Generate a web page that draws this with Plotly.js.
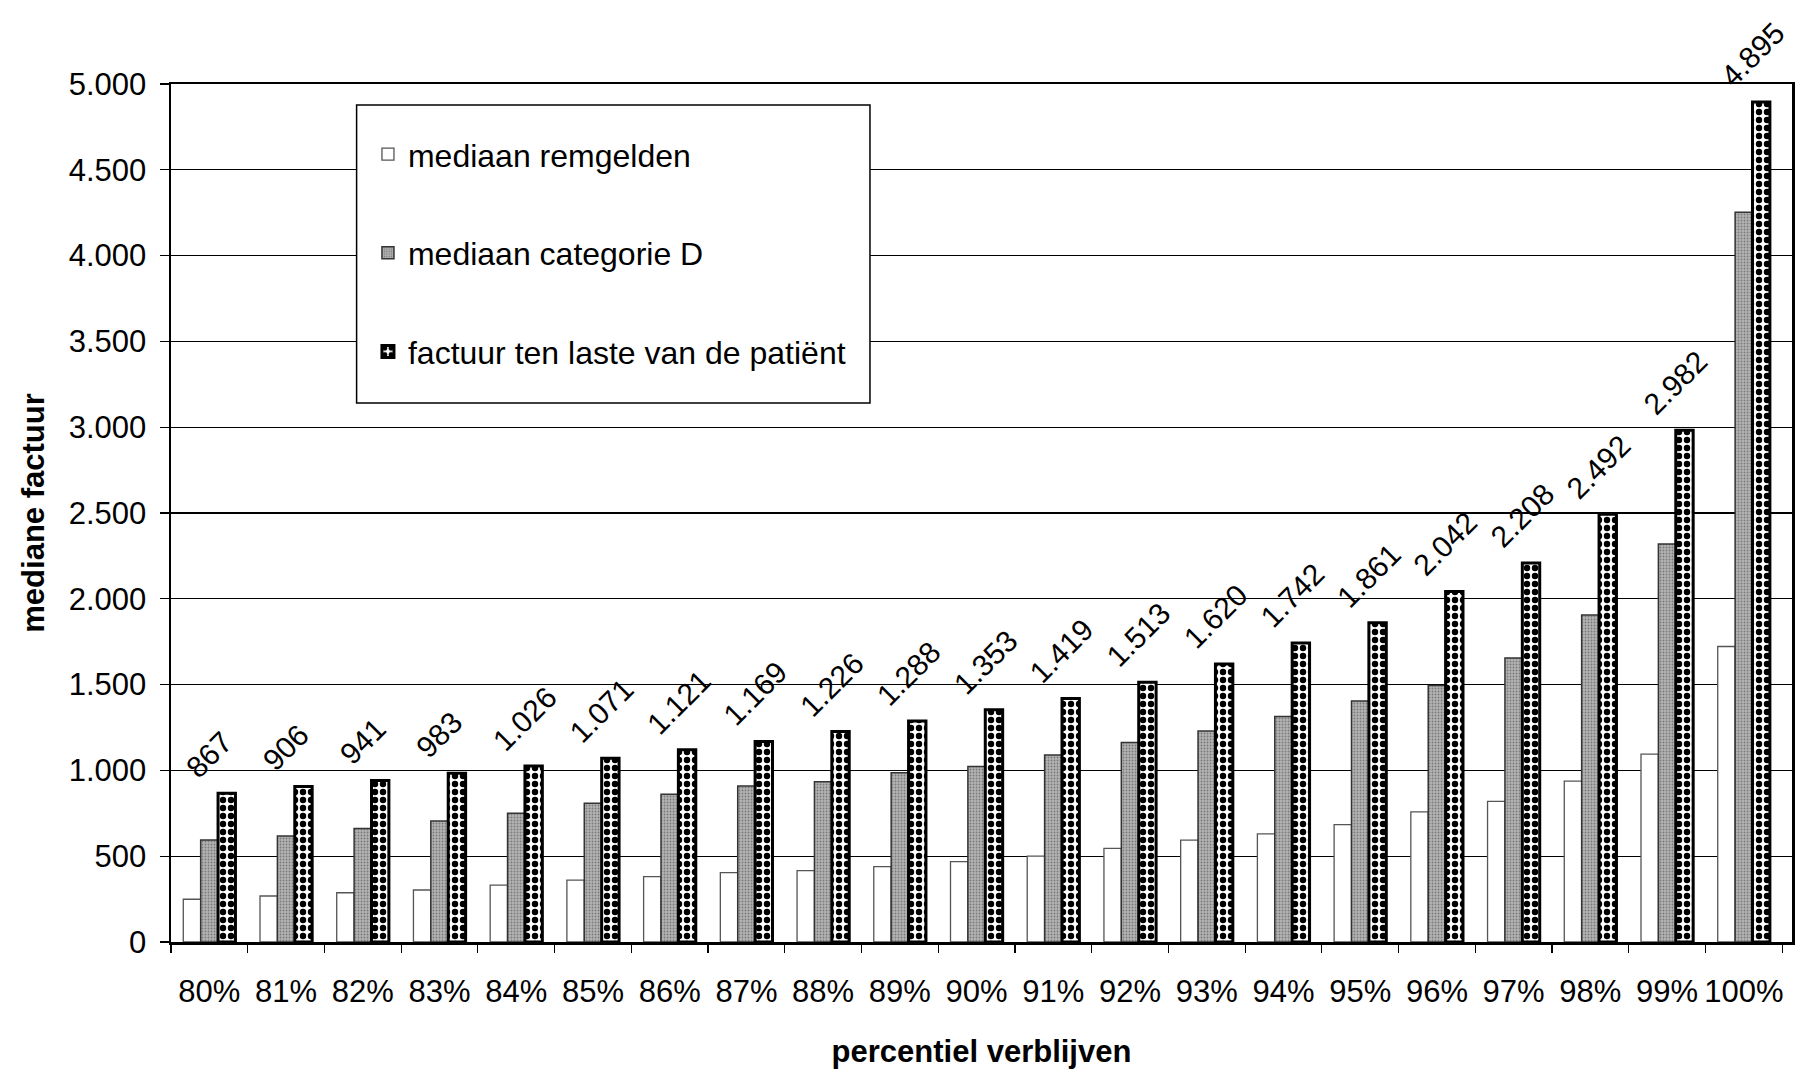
<!DOCTYPE html>
<html>
<head>
<meta charset="utf-8">
<script src="https://cdn.plot.ly/plotly-3.0.1.min.js"></script>
<style>
html,body{margin:0;padding:0;background:#fff;}
#chart{width:1804px;height:1070px;}
</style>
</head>
<body>
<div id="chart"></div>
<script>
const categories = ['80%','81%','82%','83%','84%','85%','86%','87%','88%','89%','90%','91%','92%','93%','94%','95%','96%','97%','98%','99%','100%'];
const remgelden = [249, 268, 287, 303, 332, 361, 381, 404, 416, 439, 468, 501, 546, 594, 630, 684, 758, 820, 937, 1095, 1722];
const categorieD = [594, 618, 662, 705, 750, 808, 861, 909, 934, 987, 1022, 1090, 1162, 1230, 1314, 1405, 1495, 1655, 1905, 2320, 4252];
const factuur = [867, 906, 941, 983, 1026, 1071, 1121, 1169, 1226, 1288, 1353, 1419, 1513, 1620, 1742, 1861, 2042, 2208, 2492, 2982, 4895];
const seriesNames = ['mediaan remgelden', 'mediaan categorie D', 'factuur ten laste van de patiënt'];
const yTickValues = [0, 500, 1000, 1500, 2000, 2500, 3000, 3500, 4000, 4500, 5000];

const FONT = '"Liberation Sans", Arial, Helvetica, sans-serif';
function fmt(v){ return String(v).replace(/\B(?=(\d{3})+(?!\d))/g, '.'); }

const traces = [
  {
    type: 'bar', name: seriesNames[0], x: categories, y: remgelden,
    legendgroup: 'a',
    marker: {color: '#ffffff', line: {color: '#555555', width: 1.3}}
  },
  {
    type: 'bar', name: seriesNames[1], x: categories, y: categorieD,
    legendgroup: 'b',
    marker: {color: '#a4a4a4', line: {color: '#333333', width: 1.5},
      pattern: {shape: '.', fgcolor: '#7a7a7a', bgcolor: '#b4b4b4', size: 3, solidity: 0.3}}
  },
  {
    type: 'bar', name: seriesNames[2], x: categories, y: factuur,
    legendgroup: 'c',
    marker: {color: '#ffffff', line: {color: '#000000', width: 3},
      pattern: {shape: '.', fgcolor: '#000000', bgcolor: '#ffffff', size: 8, solidity: 0.5}}
  }
];

const annotations = categories.map((c, i) => ({
  x: c, y: factuur[i], xref: 'x', yref: 'y',
  text: fmt(factuur[i]), showarrow: false, textangle: -45,
  xanchor: 'left', yanchor: 'bottom', xshift: -31, yshift: 8, borderpad: 0,
  font: {family: FONT, size: 30, color: '#000'}
}));

const layout = {
  width: 1804, height: 1070,
  margin: {l: 171, r: 12, t: 84, b: 128},
  paper_bgcolor: '#ffffff', plot_bgcolor: '#ffffff',
  font: {family: FONT, color: '#000', size: 31},
  separators: ',.',
  barmode: 'group', bargap: 0.32, bargroupgap: 0,
  showlegend: true,
  legend: {
    x: 0.1215, y: 0.950, xanchor: 'left', yanchor: 'top',
    bgcolor: 'rgba(0,0,0,0)', borderwidth: 0,
    font: {family: FONT, size: 32, color: '#000'},
    traceorder: 'grouped', tracegroupgap: 54, itemwidth: 30
  },
  xaxis: {
    type: 'category', tickangle: 0, automargin: false,
    showline: true, linecolor: '#000', linewidth: 2.5, mirror: true,
    ticks: 'outside', tickson: 'boundaries', ticklen: 8, tickwidth: 1.2, tickcolor: '#000',
    tickfont: {family: FONT, size: 31, color: '#000'},
    ticklabelstandoff: 20,
    showgrid: false, zeroline: false,
    title: {text: 'percentiel verblijven', font: {family: FONT, size: 31, color: '#000', weight: 'bold'}, standoff: 33}
  },
  yaxis: {
    range: [0, 5000], tickvals: yTickValues, tickformat: ',d', automargin: false,
    showline: true, linecolor: '#000', linewidth: 2.5, mirror: true,
    ticks: 'outside', ticklen: 9, tickwidth: 1.2, tickcolor: '#000',
    tickfont: {family: FONT, size: 31, color: '#000'},
    ticklabelstandoff: 7,
    showgrid: true, gridcolor: '#000', gridwidth: 1.2, zeroline: false,
    title: {text: 'mediane factuur', font: {family: FONT, size: 31, color: '#000', weight: 'bold'}, standoff: 15}
  },
  shapes: [{
    type: 'rect', xref: 'paper', yref: 'paper', layer: 'above',
    x0: 0.1145, x1: 0.4312, y0: 0.6282, y1: 0.9755,
    fillcolor: '#ffffff', line: {color: '#000', width: 1.5}
  }],
  annotations: annotations
};

Plotly.newPlot('chart', traces, layout, {displayModeBar: false, staticPlot: true});
</script>
</body>
</html>
